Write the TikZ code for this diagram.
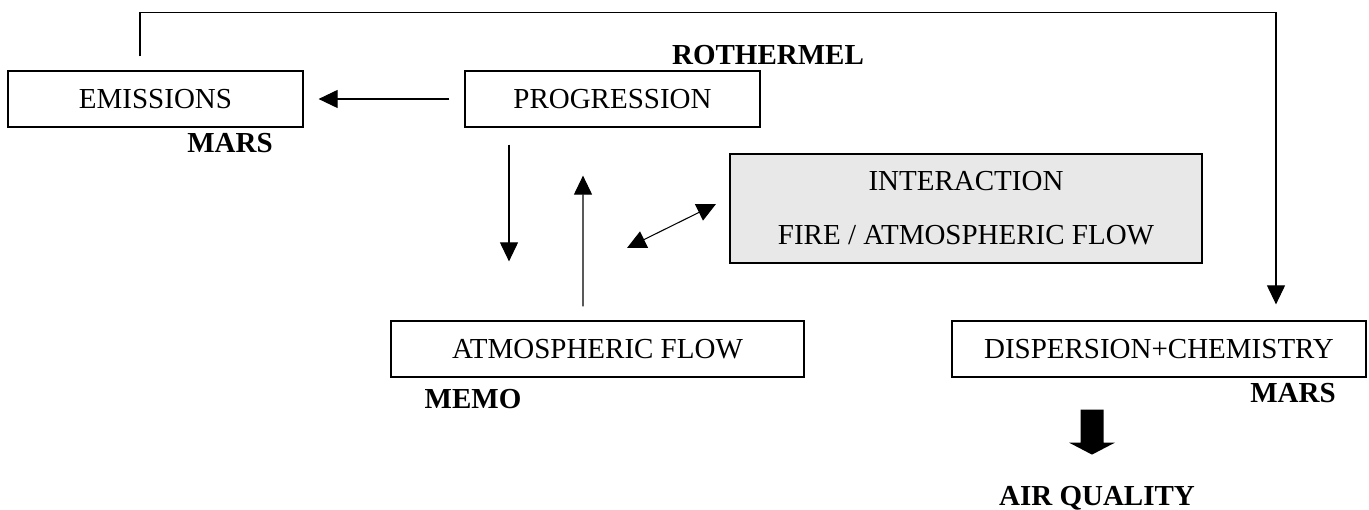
\documentclass[tikz,border=0pt]{standalone}
\usepackage{fontspec}
\setmainfont{Liberation Serif}
\usetikzlibrary{arrows.meta}
\definecolor{boxgray}{RGB}{232, 232, 232}

\begin{document}
\begin{tikzpicture}[
  mbox/.style={draw, line width=0.7pt, minimum height=1.12cm, inner sep=0pt, font=\fontsize{16.5}{20}\selectfont},
  lbl/.style={inner sep=0pt, font=\fontsize{16.5}{20}\selectfont\bfseries},
  arr/.style={line width=0.6pt, -{Triangle[length=0.38cm, width=0.36cm]}},
  dblarr/.style={line width=0.6pt, {Triangle[length=0.38cm, width=0.36cm]}-{Triangle[length=0.38cm, width=0.36cm]}}
]
  \useasboundingbox (0,0) rectangle (27.38,-10.2);
  \node[mbox, minimum width=5.9cm] (emis) at (3.11,-1.98) {EMISSIONS};
  \node[mbox, minimum width=5.9cm] (prog) at (12.25,-1.98) {PROGRESSION};
  \node[mbox, fill=boxgray, minimum width=9.44cm, minimum height=2.18cm, align=center] (inter) at (19.32,-4.17) {INTERACTION\\[10.7pt]FIRE / ATMOSPHERIC FLOW};
  \node[mbox, minimum width=8.26cm] (atm) at (11.95,-6.98) {ATMOSPHERIC FLOW};
  \node[mbox, minimum width=8.28cm] (disp) at (23.18,-6.98) {DISPERSION+CHEMISTRY};

  \node[lbl] (marsa) at (4.6,-2.86) {MARS};
  \node[lbl] (roth) at (15.36,-1.1) {ROTHERMEL};
  \node[lbl] (memo) at (9.46,-7.98) {MEMO};
  \node[lbl] (marsb) at (25.86,-7.86) {MARS};
  \node[lbl] (airq) at (21.94,-9.96) {AIR QUALITY};

  \coordinate (ia) at (12.54,-4.96);
  \coordinate (ib) at (14.32,-4.08);

  \draw[arr, shorten <=0.3cm, shorten >=0.3cm] (prog.west) -- (emis.east);
  \draw[arr, shorten <=0.34cm, shorten >=1.18cm] ([xshift=-2.07cm]prog.south) -- ([xshift=-1.77cm]atm.north);
  \draw[arr, shorten <=0.28cm, shorten >=0.96cm] ([xshift=-0.29cm]atm.north) -- ([xshift=-0.59cm]prog.south);
  \draw[dblarr] (ia) -- (ib);
  \draw[arr, shorten <=0.28cm, shorten >=0.32cm] ([xshift=-0.31cm]emis.north) -- ++(0,1.16) -| ([xshift=2.34cm]disp.north);
  \fill ([xshift=-1.34cm]disp.south) ++(-0.23,-0.64) -- ++(0.46,0) -- ++(0,-0.66) -- ++(0.23,0) -- ++(-0.46,-0.24) -- ++(-0.46,0.24) -- ++(0.23,0) -- cycle;
\end{tikzpicture}
\end{document}
